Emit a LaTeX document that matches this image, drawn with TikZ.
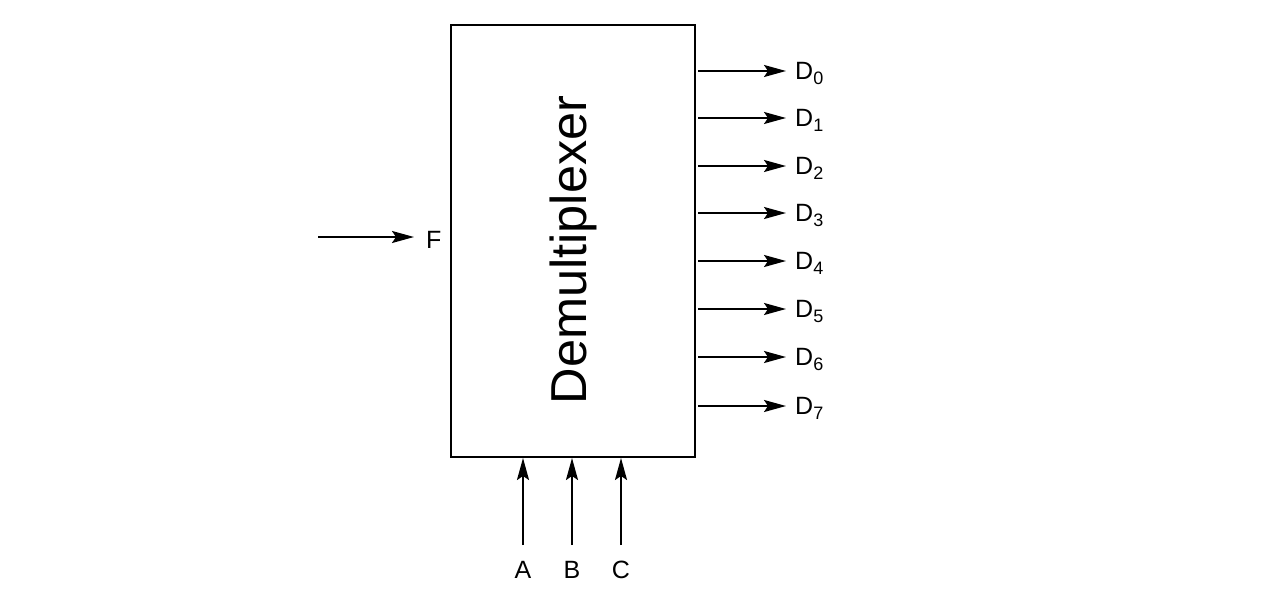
\documentclass[tikz,border=0pt]{standalone}
\usepackage{fontspec}
\setmainfont{Liberation Sans}
\usetikzlibrary{arrows.meta}
\begin{document}
\begin{tikzpicture}[x=1pt,y=-1pt,
  sig/.style={line width=2pt,-{Stealth[length=22pt,width=12pt,inset=4pt]}},
  lbl/.style={font=\fontsize{25}{28}\selectfont,inner sep=0pt}]
\useasboundingbox (0,0) rectangle (1265,599);
\node[draw,line width=2pt,minimum width=244pt,minimum height=432pt,inner sep=0pt] (box) at (573,241) {};
\node[rotate=90,font=\fontsize{50.5}{56}\selectfont,inner sep=0pt] (title) at (573,250) {Demultiplexer};
\foreach \i/\y in {0/71,1/118,2/166,3/213,4/261,5/309,6/357,7/406}{
  \coordinate (s\i) at (698,\y);
  \coordinate (e\i) at (786,\y);
  \node[lbl,anchor=west] (d\i) at (795,\y+2) {D\raisebox{-5pt}{\fontsize{18}{20}\selectfont\i}};
  \draw[sig] (s\i) -- (e\i);
}
\coordinate (fs) at (318,237);
\coordinate (fe) at (414,237);
\node[lbl,anchor=west] (f) at (426,240) {F};
\draw[sig] (fs) -- (fe);
\foreach \n/\x in {A/523,B/572,C/621}{
  \node[lbl] (l\n) at (\x,570) {\n};
  \coordinate (b\n) at (\x,545);
  \coordinate (t\n) at (\x,458);
  \draw[sig] (b\n) -- (t\n);
}
\end{tikzpicture}
\end{document}
